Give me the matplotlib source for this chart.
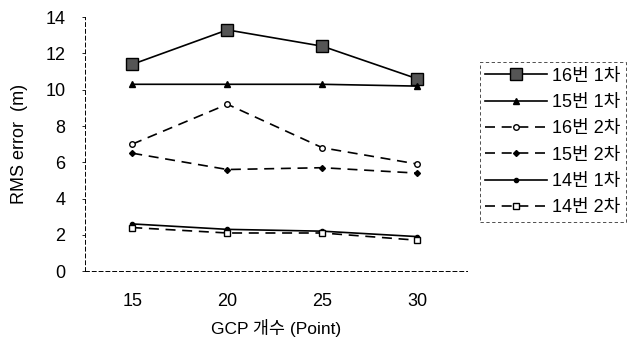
import matplotlib
matplotlib.use("Agg")
import matplotlib.pyplot as plt

plt.rcParams["font.family"] = ["Liberation Sans", "Noto Sans CJK KR"]

GCP = [15, 20, 25, 30]
S16_1 = [11.4, 13.3, 12.4, 10.6]
S15_1 = [10.3, 10.3, 10.3, 10.2]
S16_2 = [7.0, 9.2, 6.8, 5.9]
S15_2 = [6.5, 5.6, 5.7, 5.4]
S14_1 = [2.6, 2.3, 2.2, 1.9]
S14_2 = [2.4, 2.1, 2.1, 1.7]
LABELS = ["16번 1차", "15번 1차", "16번 2차", "15번 2차", "14번 1차", "14번 2차"]
Y_TICKS = [0, 2, 4, 6, 8, 10, 12, 14]

fig = plt.figure(figsize=(6.37, 3.44), dpi=100)
ax = fig.add_axes([0.133, 0.212, 0.60, 0.738])

ax.plot(GCP, S16_1, "-", color="k", lw=1.2, marker="s", ms=9,
        mfc="#555555", mec="k", label=LABELS[0])
ax.plot(GCP, S15_1, "-", color="k", lw=1.2, marker="^", ms=4, label=LABELS[1])
ax.plot(GCP, S16_2, "--", color="k", lw=1.2, dashes=(6, 4), marker="o", ms=4,
        mfc="white", label=LABELS[2])
ax.plot(GCP, S15_2, "--", color="k", lw=1.2, dashes=(6, 4), marker="D", ms=3,
        label=LABELS[3])
ax.plot(GCP, S14_1, "-", color="k", lw=1.2, marker="o", ms=3, label=LABELS[4])
ax.plot(GCP, S14_2, "--", color="k", lw=1.2, dashes=(6, 4), marker="s", ms=4,
        mfc="white", label=LABELS[5])

ax.set_xlim(12.5, 32.6)
ax.set_ylim(0, 14)
ax.set_xticks(GCP)
ax.set_yticks(Y_TICKS)
ax.tick_params(axis="both", labelsize=13, length=2, width=0.6)
ax.tick_params(axis="y", pad=12)
ax.tick_params(axis="x", length=0, pad=16)
for side in ("top", "right"):
    ax.spines[side].set_visible(False)
for side in ("left", "bottom"):
    ax.spines[side].set_linestyle((0, (4, 3)))
    ax.spines[side].set_linewidth(0.7)

ax.set_xlabel("GCP 개수 (Point)", fontsize=12.5, labelpad=6)
ax.set_ylabel("RMS error  (m)", fontsize=13, labelpad=12)

leg = ax.legend(loc="upper left", bbox_to_anchor=(1.034, 0.823), fontsize=13,
                frameon=True, fancybox=False, handlelength=3.4,
                labelspacing=0.52, borderpad=0.3, handletextpad=0.3,
                borderaxespad=0)
leg.get_frame().set_edgecolor("k")
leg.get_frame().set_linewidth(0.6)
leg.get_frame().set_linestyle((0, (4, 3)))

fig.savefig("out.png", dpi=100)
